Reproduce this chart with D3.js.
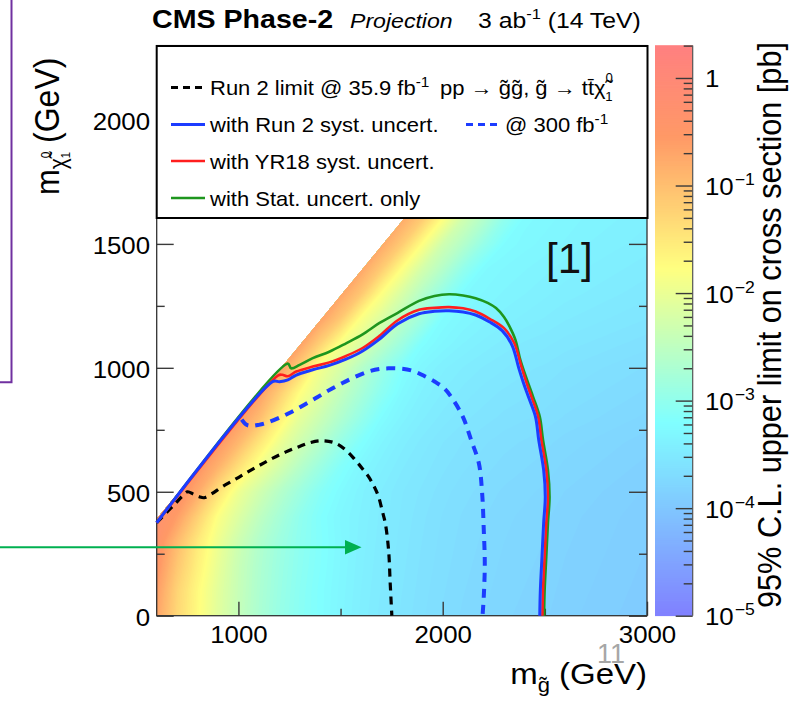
<!DOCTYPE html>
<html><head><meta charset="utf-8">
<script src="https://d3js.org/d3.v7.min.js"></script>
<style>
html,body{margin:0;padding:0;background:#fff;}
svg{display:block;font-family:"Liberation Sans",Arial,Helvetica,sans-serif;}
</style></head>
<body><svg id="chart" width="791" height="705"></svg>
<script>
// ---------------- DATA ----------------
const mGluino = [600,700,800,900,1000,1100,1200,1300,1400,1500,1600,1700,1800,1900,2000,2100,2200,2300,2400,2500,2600,2700,2800,2900,3000];
const mLSP = [0,100,200,300,400,500,600,700,800,900,1000,1100,1200,1300,1400,1500,1600,1700];
// log10 of the 95% CL upper limit on the cross section [pb]; one row per mLSP value, null = outside kinematic region
const _ = null;
const logLimit = [
 [-0.7,-1.3,-1.72,-2.1,-2.42,-2.7,-2.92,-3.08,-3.2,-3.32,-3.42,-3.5,-3.57,-3.63,-3.68,-3.72,-3.75,-3.78,-3.8,-3.82,-3.85,-3.87,-3.89,-3.91,-3.93],
 [-0.6,-1.25,-1.7,-2.08,-2.4,-2.68,-2.9,-3.07,-3.2,-3.31,-3.41,-3.49,-3.56,-3.62,-3.67,-3.71,-3.74,-3.77,-3.79,-3.81,-3.84,-3.86,-3.88,-3.9,-3.92],
 [-0.45,-1.1,-1.6,-2.02,-2.38,-2.66,-2.88,-3.05,-3.18,-3.3,-3.4,-3.48,-3.55,-3.61,-3.66,-3.7,-3.73,-3.76,-3.78,-3.8,-3.83,-3.85,-3.87,-3.89,-3.91],
 [-0.35,-0.95,-1.5,-1.95,-2.32,-2.62,-2.85,-3.03,-3.17,-3.29,-3.39,-3.47,-3.54,-3.6,-3.65,-3.69,-3.72,-3.75,-3.77,-3.79,-3.82,-3.84,-3.86,-3.88,-3.9],
 [-0.3,-0.6,-1.2,-1.8,-2.15,-2.48,-2.75,-3.0,-3.18,-3.3,-3.38,-3.46,-3.53,-3.59,-3.64,-3.68,-3.71,-3.74,-3.76,-3.78,-3.81,-3.83,-3.85,-3.87,-3.89],
 [-0.3,-0.35,-0.75,-1.4,-1.95,-2.28,-2.58,-2.85,-3.1,-3.25,-3.36,-3.45,-3.52,-3.57,-3.62,-3.66,-3.69,-3.72,-3.74,-3.76,-3.79,-3.81,-3.83,-3.85,-3.87],
 [_,-0.4,-0.45,-0.85,-1.4,-1.9,-2.25,-2.58,-2.88,-3.15,-3.3,-3.4,-3.48,-3.54,-3.59,-3.63,-3.66,-3.69,-3.71,-3.73,-3.76,-3.78,-3.8,-3.82,-3.84],
 [_,_,-0.45,-0.5,-0.9,-1.45,-1.95,-2.3,-2.6,-2.92,-3.18,-3.33,-3.43,-3.5,-3.56,-3.6,-3.63,-3.66,-3.68,-3.7,-3.73,-3.75,-3.77,-3.79,-3.81],
 [_,_,_,-0.5,-0.55,-0.95,-1.55,-2.05,-2.35,-2.65,-2.95,-3.22,-3.35,-3.44,-3.5,-3.55,-3.58,-3.61,-3.63,-3.65,-3.68,-3.7,-3.72,-3.74,-3.76],
 [_,_,_,_,-0.55,-0.6,-1.15,-1.75,-2.1,-2.45,-2.75,-3.05,-3.27,-3.38,-3.45,-3.5,-3.54,-3.57,-3.59,-3.61,-3.64,-3.66,-3.68,-3.7,-3.72],
 [_,_,_,_,_,-0.6,-0.6,-1.2,-1.9,-2.2,-2.58,-2.9,-3.18,-3.32,-3.4,-3.45,-3.49,-3.52,-3.55,-3.57,-3.6,-3.62,-3.64,-3.66,-3.68],
 [_,_,_,_,_,_,-0.62,-0.62,-1.2,-1.82,-2.15,-2.52,-2.85,-3.2,-3.3,-3.37,-3.42,-3.46,-3.49,-3.51,-3.54,-3.56,-3.58,-3.6,-3.62],
 [_,_,_,_,_,_,_,-0.65,-0.65,-1.1,-1.8,-2.15,-2.52,-2.85,-3.22,-3.3,-3.35,-3.39,-3.42,-3.45,-3.48,-3.5,-3.52,-3.54,-3.56],
 [_,_,_,_,_,_,_,_,-0.68,-0.68,-1.1,-1.77,-2.2,-2.6,-2.95,-3.25,-3.3,-3.34,-3.37,-3.4,-3.43,-3.45,-3.47,-3.49,-3.51],
 [_,_,_,_,_,_,_,_,_,-0.7,-0.7,-1.15,-1.77,-2.25,-2.6,-2.98,-3.25,-3.3,-3.33,-3.36,-3.39,-3.41,-3.43,-3.45,-3.47],
 [_,_,_,_,_,_,_,_,_,_,-0.72,-0.72,-1.15,-1.77,-2.3,-2.6,-2.95,-3.22,-3.28,-3.31,-3.34,-3.37,-3.39,-3.41,-3.43],
 [_,_,_,_,_,_,_,_,_,_,_,-0.75,-0.75,-1.15,-1.77,-2.3,-2.62,-3.0,-3.24,-3.28,-3.31,-3.34,-3.36,-3.38,-3.4],
 [_,_,_,_,_,_,_,_,_,_,_,_,-0.78,-0.78,-1.2,-1.8,-2.3,-2.65,-3.0,-3.24,-3.28,-3.31,-3.33,-3.35,-3.37]
];
const kinematicEdge = 210;   // mLSP <= mGluino - edge

// exclusion contours [mGluino, mLSP]
const run2Limit = [[600,375],[650,418],[694,455],[725,482],[751,500],[780,490],[808,480],[832,476],[870,492],[922,521],[980,548],[1036,575],[1100,605],[1166,635],[1230,660],[1296,682],[1350,698],[1410,706],[1475,696],[1530,665],[1572,628],[1610,590],[1637,561],[1665,520],[1686,480],[1705,420],[1719,373],[1735,265],[1743,131],[1751,0]];
const proj300 = [[1016,791],[1040,770],[1068,766],[1100,770],[1133,777],[1190,795],[1247,817],[1310,845],[1377,877],[1440,908],[1507,938],[1570,963],[1637,985],[1690,995],[1735,998],[1790,997],[1849,989],[1910,967],[1962,944],[2010,915],[2052,870],[2100,800],[2139,709],[2177,615],[2193,494],[2201,346],[2206,211],[2201,77],[2195,0]];
const run2Syst = [[600,375],[1170,945],[1201,944],[1242,951],[1283,971],[1364,992],[1445,1010],[1527,1035],[1608,1068],[1689,1115],[1780,1178],[1884,1218],[1960,1228],[2031,1230],[2100,1225],[2161,1213],[2230,1185],[2291,1150],[2340,1090],[2372,1000],[2395,940],[2421,880],[2454,803],[2470,709],[2494,588],[2502,480],[2494,373],[2486,238],[2478,104],[2475,0]];
const yr18Syst = [[600,375],[1195,970],[1215,972],[1242,966],[1283,985],[1364,1005],[1445,1022],[1527,1048],[1608,1080],[1689,1128],[1780,1192],[1884,1234],[1960,1242],[2031,1245],[2100,1240],[2161,1227],[2230,1198],[2300,1160],[2350,1100],[2385,1005],[2408,945],[2434,884],[2467,803],[2483,709],[2507,588],[2515,480],[2507,373],[2499,238],[2491,104],[2488,0]];
const statOnly = [[600,375],[1242,1017],[1258,998],[1300,1012],[1364,1039],[1445,1065],[1527,1099],[1608,1135],[1689,1180],[1780,1222],[1884,1270],[1960,1290],[2031,1297],[2100,1292],[2161,1281],[2220,1262],[2261,1241],[2300,1205],[2323,1173],[2356,1113],[2380,1032],[2413,951],[2442,884],[2475,803],[2491,709],[2515,588],[2523,480],[2515,373],[2507,238],[2499,104],[2496,0]];

const xDomain = [600, 3000], yDomain = [0, 2300], zDomain = [1e-5, 2];
const xMajor = [1000, 2000, 3000], xMinor = [1500, 2500];
const yMajor = [0, 500, 1000, 1500, 2000], yMinor = [250, 750, 1250, 1750, 2250];
const zMajor = [1e-5, 1e-4, 1e-3, 1e-2, 1e-1, 1];
const zLabels = [["10","−5"],["10","−4"],["10","−3"],["10","−2"],["10","−1"],["1",""]];
const paletteStops = [0, 0.34, 0.61, 0.84, 1];
const paletteColors = ["#8080ff","#80ffff","#ffff80","#ff9966","#ff8080"];

// ---------------- LAYOUT ----------------
const plot = {left:156.7, right:647, top:45.6, bottom:615.7};
const cb = {left:655, right:692.7};
const SX = 1.1;
const FONT = '"Liberation Sans",Arial,Helvetica,sans-serif';
const svg = d3.select("#chart");
const x = d3.scaleLinear().domain(xDomain).range([plot.left, plot.right]);
const y = d3.scaleLinear().domain(yDomain).range([plot.bottom, plot.top]);
const z = d3.scaleLog().domain(zDomain).range([plot.bottom, plot.top]);
const logLo = Math.log10(zDomain[0]), logHi = Math.log10(zDomain[1]);
const palette = d3.scaleLinear().domain(paletteStops).range(paletteColors).interpolate(d3.interpolateRgb).clamp(true);
const colorOfLog = v => palette((v - logLo) / (logHi - logLo));

// ---------------- HEATMAP (filled contours of the grid) ----------------
const defs = svg.append("defs");
const region = [[xDomain[0], 0],[xDomain[1], 0],[xDomain[1], yDomain[1]],[yDomain[1] + kinematicEdge, yDomain[1]],[xDomain[0], xDomain[0] - kinematicEdge]];
defs.append("clipPath").attr("id","dataRegion").append("path")
  .attr("d", d3.line()(region.map(([a,b]) => [x(a), y(b)])) + "Z");

const nx = mGluino.length, ny = mLSP.length;
const flat = [];
for (let j = 0; j < ny; j++) for (let i = 0; i < nx; i++) { const v = logLimit[j][i]; flat.push(v == null ? -10 : v); }
const nLev = 140, step = (logHi - logLo) / nLev;
const thresholds = d3.range(nLev).map(k => logLo + step * k);
const gx = c => mGluino[0] + (c - 0.5) * (mGluino[1] - mGluino[0]);
const gy = c => mLSP[0] + (c - 0.5) * (mLSP[1] - mLSP[0]);
const bands = d3.contours().size([nx, ny]).thresholds(thresholds)(flat).map(c => ({
  type: "MultiPolygon", value: c.value,
  coordinates: c.coordinates.map(p => p.map(r => r.map(([a,b]) => [x(gx(a)), y(gy(b))])))
}));
svg.append("g").attr("clip-path","url(#dataRegion)")
  .selectAll("path").data(bands).join("path")
  .attr("d", d3.geoPath())
  .attr("fill", d => colorOfLog(d.value + step / 2));

// ---------------- AXES ----------------
function styleAxis(g) {
  g.select(".domain").remove();
  g.selectAll(".tick line").attr("stroke","#3a3a3a").attr("stroke-width",1.4);
  g.selectAll(".tick text").attr("font-size",23.5).attr("font-family",FONT).attr("fill","#000").attr("transform",`scale(${SX},1)`);
}
svg.append("g").attr("transform",`translate(${plot.left},0)`)
  .call(d3.axisLeft(y).tickValues(yMajor).tickSize(-17).tickPadding(6).tickFormat(d3.format("d")))
  .call(styleAxis).selectAll(".tick text").attr("dy","0.4em");
svg.append("g").attr("transform",`translate(${plot.left},0)`)
  .call(d3.axisLeft(y).tickValues(yMinor).tickSize(-8).tickFormat("")).call(styleAxis);
svg.append("g").attr("transform",`translate(${plot.right},0)`)
  .call(d3.axisRight(y).tickValues(yMajor).tickSize(-18).tickFormat("")).call(styleAxis);
svg.append("g").attr("transform",`translate(${plot.right},0)`)
  .call(d3.axisRight(y).tickValues(yMinor).tickSize(-8).tickFormat("")).call(styleAxis);
svg.append("g").attr("transform",`translate(0,${plot.bottom})`)
  .call(d3.axisBottom(x).tickValues(xMajor).tickSize(-14).tickPadding(11).tickFormat(d3.format("d")))
  .call(styleAxis);
svg.append("g").attr("transform",`translate(0,${plot.bottom})`)
  .call(d3.axisBottom(x).tickValues(xMinor).tickSize(-7).tickFormat("")).call(styleAxis);
svg.append("rect").attr("x",plot.left).attr("y",plot.top).attr("width",plot.right-plot.left).attr("height",plot.bottom-plot.top)
  .attr("fill","none").attr("stroke","#333").attr("stroke-width",1.3);

// ---------------- CONTOUR LINES ----------------
const line = d3.line().x(d => x(d[0])).y(d => y(d[1])).curve(d3.curveCatmullRom.alpha(0.5));
const curves = [
  {data: run2Limit, color:"#000", w:3.2, dash:"8,6"},
  {data: proj300, color:"#1c3cff", w:4, dash:"9,7"},
  {data: statOnly, color:"#1e961e", w:2.6},
  {data: yr18Syst, color:"#ff1e1e", w:2.6},
  {data: run2Syst, color:"#1c3cff", w:3}
];
svg.append("g").selectAll("path").data(curves).join("path")
  .attr("d", d => line(d.data)).attr("fill","none")
  .attr("stroke", d => d.color).attr("stroke-width", d => d.w)
  .attr("stroke-dasharray", d => d.dash || null).attr("stroke-linejoin","round");

// ---------------- COLOR BAR ----------------
const nSl = 300;
svg.append("g").selectAll("rect").data(d3.range(nSl)).join("rect")
  .attr("x", cb.left).attr("width", cb.right - cb.left)
  .attr("y", k => z(Math.pow(10, logLo + (logHi - logLo) * (k + 1) / nSl)) - 0.4)
  .attr("height", k => z(Math.pow(10, logLo + (logHi - logLo) * k / nSl)) - z(Math.pow(10, logLo + (logHi - logLo) * (k + 1) / nSl)) + 0.8)
  .attr("fill", k => colorOfLog(logLo + (logHi - logLo) * (k + 0.5) / nSl));
const zMinor = [];
zMajor.forEach(m => { for (let k = 2; k <= 9; k++) if (m * k <= zDomain[1] * 1.0001) zMinor.push(m * k); });
svg.append("g").attr("transform",`translate(${cb.right},0)`)
  .call(d3.axisRight(z).tickValues(zMajor).tickSize(-17).tickFormat("")).call(styleAxis);
svg.append("g").attr("transform",`translate(${cb.right},0)`)
  .call(d3.axisRight(z).tickValues(zMinor).tickSize(-9).tickFormat("")).call(styleAxis);
svg.append("line").attr("x1",cb.right).attr("x2",cb.right).attr("y1",plot.top).attr("y2",plot.bottom).attr("stroke","#555").attr("stroke-width",1.2);
const zl = svg.append("g").selectAll("g").data(zMajor).join("g")
  .attr("transform", (d) => `translate(705,${z(d) + 9.5}) scale(${SX},1)`);
zl.append("text").attr("font-size",23.5).attr("font-family",FONT).each(function(d, i) {
  const t = d3.select(this);
  t.append("tspan").text(zLabels[i][0]);
  if (zLabels[i][1]) t.append("tspan").attr("font-size",16).attr("dy",-10).attr("dx",1).text(zLabels[i][1]);
});

// colour bar title
svg.append("text").attr("transform",`translate(781,608) scale(${SX},1) rotate(-90)`)
  .attr("font-size",30).attr("font-family",FONT).attr("textLength",566).attr("lengthAdjust","spacingAndGlyphs")
  .text("95% C.L. upper limit on cross section [pb]");

// ---------------- AXIS TITLES ----------------
const yt = svg.append("text").attr("transform",`translate(58.5,195) scale(${SX},1) rotate(-90)`)
  .attr("font-size",31).attr("font-family",FONT);
yt.append("tspan").text("m");
yt.append("tspan").attr("font-size",21).attr("dy",7).text("χ\u0303");
yt.append("tspan").attr("font-size",12).attr("dy",-15).text("0");
yt.append("tspan").attr("font-size",12).attr("dx",-7).attr("dy",18).text("1");
yt.append("tspan").attr("font-size",32).attr("dy",-10).text(" (GeV)");

const xt = svg.append("text").attr("transform",`translate(647,684) scale(${SX},1)`)
  .attr("font-size",30).attr("font-family",FONT).attr("text-anchor","end");
xt.append("tspan").text("m");
xt.append("tspan").attr("font-size",20).attr("dy",8).text("g\u0303");
xt.append("tspan").attr("font-size",30).attr("dy",-8).text(" (GeV)");

// ---------------- TITLE ----------------
function stext(x0, y0, size, parts, opts = {}) {
  const t = svg.append("text").attr("transform",`translate(${x0},${y0}) scale(${SX},1)`)
    .attr("font-size",size).attr("font-family",FONT);
  if (opts.weight) t.attr("font-weight",opts.weight);
  if (opts.style) t.attr("font-style",opts.style);
  if (opts.fill) t.attr("fill",opts.fill);
  parts.forEach(p => {
    const s = t.append("tspan").text(p.t);
    if (p.size) s.attr("font-size",p.size);
    if (p.dy) s.attr("dy",p.dy);
    if (p.dx) s.attr("dx",p.dx);
  });
  return t;
}
stext(152, 28.3, 26, [{t:"CMS Phase-2"}], {weight:"bold"});
stext(350, 28.3, 21, [{t:"Projection"}], {style:"italic"});
stext(478, 28.3, 22.5, [{t:"3 ab"},{t:"-1",size:15,dy:-9},{t:" (14 TeV)",dy:9}]);

// ---------------- LEGEND ----------------
svg.append("rect").attr("x",plot.left).attr("y",46).attr("width",plot.right-plot.left+0.5).attr("height",172)
  .attr("fill","#fff").attr("stroke","#000").attr("stroke-width",2);
const legendRows = [
  {c:curves[0], y:87.5, parts:[{t:"Run 2 limit @ 35.9 fb"},{t:"-1",size:14,dy:-8}]},
  {c:curves[4], y:124.5, parts:[{t:"with Run 2 syst. uncert."}]},
  {c:curves[3], y:161, parts:[{t:"with YR18 syst. uncert."}]},
  {c:curves[2], y:198, parts:[{t:"with Stat. uncert. only"}]}
];
legendRows.forEach(r => {
  svg.append("line").attr("x1",171).attr("x2",205).attr("y1",r.y).attr("y2",r.y)
    .attr("stroke",r.c.color).attr("stroke-width",Math.min(r.c.w,3)).attr("stroke-dasharray",r.c.dash ? "7,5" : null);
  stext(210, r.y + 7.5, 20, r.parts);
});
svg.append("line").attr("x1",466).attr("x2",498).attr("y1",124.5).attr("y2",124.5)
  .attr("stroke",curves[1].color).attr("stroke-width",3).attr("stroke-dasharray","7,5");
stext(505, 132, 20, [{t:"@ 300 fb"},{t:"-1",size:14,dy:-8}]);
stext(440, 95, 20, [{t:"pp → g\u0303g\u0303, g\u0303 → tt\u0304χ\u0303"},{t:"0",size:12,dy:-13},{t:"1",size:12,dx:-7,dy:19}]);

// ---------------- SLIDE ANNOTATIONS ----------------
svg.append("text").attr("x",546).attr("y",273).attr("font-size",42).attr("font-family",FONT).attr("fill","#111").text("[1]");
svg.append("text").attr("x",597).attr("y",663).attr("font-size",27).attr("font-family",FONT).attr("fill","#a6a6a6").text("11");
svg.append("path").attr("d","M11.5,0V382.3H0").attr("fill","none").attr("stroke","#7030a0").attr("stroke-width",2);
svg.append("line").attr("x1",0).attr("x2",347).attr("y1",547.3).attr("y2",547.3).attr("stroke","#00b050").attr("stroke-width",2);
svg.append("path").attr("d","M345,540L361.5,547.3L345,554.6Z").attr("fill","#00b050");
</script>
</body></html>
